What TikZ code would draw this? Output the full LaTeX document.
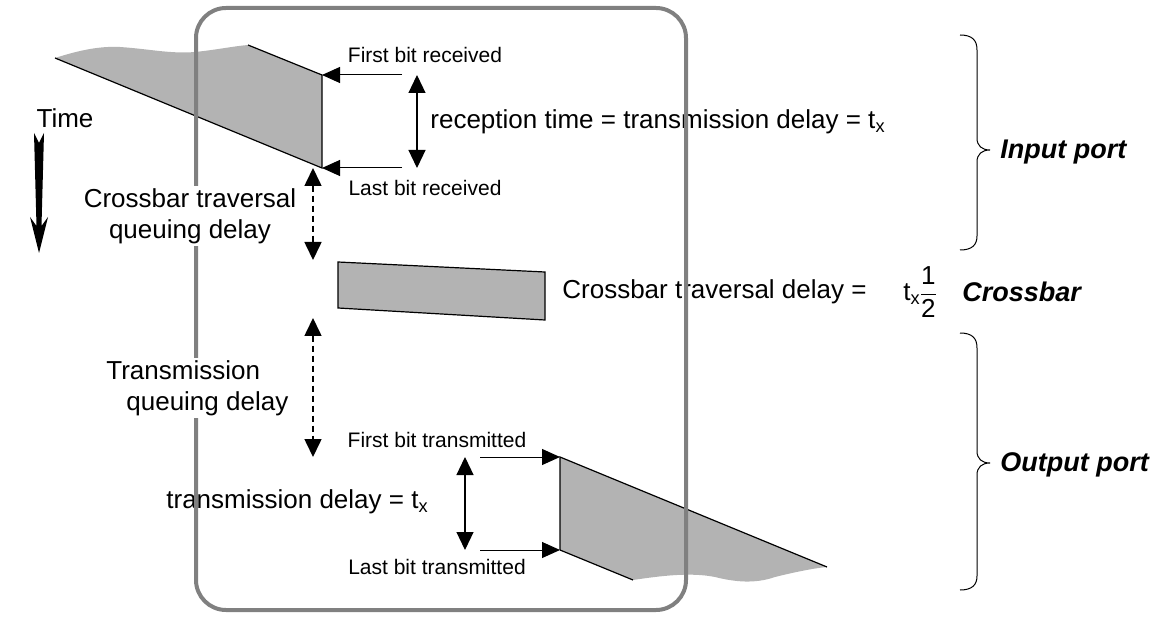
\documentclass[tikz,border=0pt]{standalone}
\usepackage{amsmath}
\usepackage{fontspec}
\setmainfont{Liberation Sans}
\usetikzlibrary{arrows.meta,positioning}
\definecolor{framegray}{HTML}{808080}
\definecolor{pktgray}{HTML}{B3B3B3}
\tikzset{lbl/.style={font=\fontsize{13}{15.5}\selectfont,inner sep=0pt},
  small/.style={font=\fontsize{10.5}{12.5}\selectfont,inner sep=0pt},
  port/.style={font=\fontsize{13.5}{16}\selectfont\bfseries\itshape,inner sep=0pt,anchor=west},
  edge/.style={draw=black,line width=0.6pt,line join=miter},
  bitarrow/.style={-{Triangle[length=9pt,width=8pt]},line width=0.5pt},
  span/.style={{Triangle[length=9pt,width=8.5pt]}-{Triangle[length=9pt,width=8.5pt]},line width=0.6pt},
  wait/.style={span,dash pattern=on 3pt off 2pt,line width=0.8pt},
  portbrace/.style={draw=black,line width=0.5pt}}
\begin{document}
\begin{tikzpicture}[x=0.5pt,y=-0.5pt]
\useasboundingbox (0,0) rectangle (1162,620);
% input packet
\coordinate (inA) at (55,58); \coordinate (inB) at (248,45);
\coordinate (inC) at (322,75); \coordinate (inD) at (322,168);
\fill[pktgray] (inA) .. controls (80,50) and (100,46) .. (120,47) .. controls (150,49) and (170,54) .. (195,52)
  .. controls (215,50) and (235,46) .. (inB) -- (inC) -- (inD) -- cycle;
\draw[edge] (inB) -- (inC) -- (inD) -- (inA);
\node[small] (firstrx) at (425,55) {First bit received};
\node[small] (lastrx) at (425,188) {Last bit received};
\coordinate (rxtop) at (417,75); \coordinate (rxbot) at (417,168);
\coordinate (rxfrom1) at (402,75); \coordinate (rxfrom2) at (402,168);
\draw[bitarrow] (rxfrom1) -- (inC);
\draw[bitarrow] (rxfrom2) -- (inD);
\draw[span] (rxtop) -- (rxbot);
\node[lbl,anchor=west] (rxtime) at (430,122) {reception time = transmission delay = t\textsubscript{x}};
% time arrow
\node[lbl] (time) at (65,118) {Time};
\fill (34,133) -- (39,143) -- (44,133) -- (41.5,226) -- (48,217) -- (39,253) -- (30,217) -- (36.5,226) -- cycle;
% crossbar
\coordinate (xbA) at (338,262); \coordinate (xbB) at (545,272);
\coordinate (xbC) at (545,320); \coordinate (xbD) at (338,308);
\filldraw[pktgray,edge] (xbA) -- (xbB) -- (xbC) -- (xbD) -- cycle;
\node[lbl,anchor=west] (xbdelay) at (562,292) {Crossbar traversal delay =};
\node[lbl,anchor=west] (half) at (903,292) {t\textsubscript{x}\kern-1pt$\dfrac{\text{1}}{\text{2}}$};
\coordinate (q1top) at (313,168); \coordinate (q1bot) at (313,260);
\coordinate (q2top) at (313,318); \coordinate (q2bot) at (313,457);
\draw[wait] (q1top) -- (q1bot);
\draw[wait] (q2top) -- (q2bot);
% output packet
\coordinate (outE) at (560,457); \coordinate (outF) at (827,567);
\coordinate (outG) at (633,580); \coordinate (outH) at (560,550);
\fill[pktgray] (outE) -- (outF) .. controls (815,568) and (795,572) .. (775,577) .. controls (755,584) and (735,582) .. (715,577)
  .. controls (690,572) and (660,576) .. (outG) -- (outH) -- cycle;
\draw[edge] (outH) -- (outE) -- (outF);
\draw[edge] (outH) -- (outG);
\node[small] (firsttx) at (437,440) {First bit transmitted};
\node[small] (lasttx) at (437,567) {Last bit transmitted};
\coordinate (txfrom1) at (480,457); \coordinate (txfrom2) at (480,550);
\coordinate (txtop) at (465,457); \coordinate (txbot) at (465,550);
\draw[bitarrow] (txfrom1) -- (outE);
\draw[bitarrow] (txfrom2) -- (outH);
\draw[span] (txtop) -- (txbot);
\node[lbl,anchor=west] (txdelay) at (166,502) {transmission delay = t\textsubscript{x}};
% switch frame
\draw[framegray,line width=2pt,rounded corners=15pt] (196,8) rectangle (686,610);
\node[lbl,align=center,fill=white,inner sep=1pt] (xbqueue) at (190,216) {Crossbar traversal\\queuing delay};
\node[lbl,align=left,fill=white,inner sep=1pt,anchor=west] (txqueue) at (104,388) {Transmission\\\hspace*{10pt}queuing delay};
% ports
\draw[portbrace] (960,35) .. controls (972,35) and (977,40) .. (977,50) -- (977,138) .. controls (977,146) and (982,150) .. (990,150)
  .. controls (982,150) and (977,154) .. (977,162) -- (977,236) .. controls (977,245) and (972,250) .. (960,250);
\draw[portbrace] (960,333) .. controls (972,333) and (977,338) .. (977,348) -- (977,451) .. controls (977,459) and (982,463) .. (990,463)
  .. controls (982,463) and (977,467) .. (977,475) -- (977,576) .. controls (977,585) and (972,590) .. (960,590);
\node[port] (inport) at (1000,152) {Input port};
\node[port] (xbar) at (962,292) {Crossbar};
\node[port] (outport) at (1000,465) {Output port};
\end{tikzpicture}
\end{document}
